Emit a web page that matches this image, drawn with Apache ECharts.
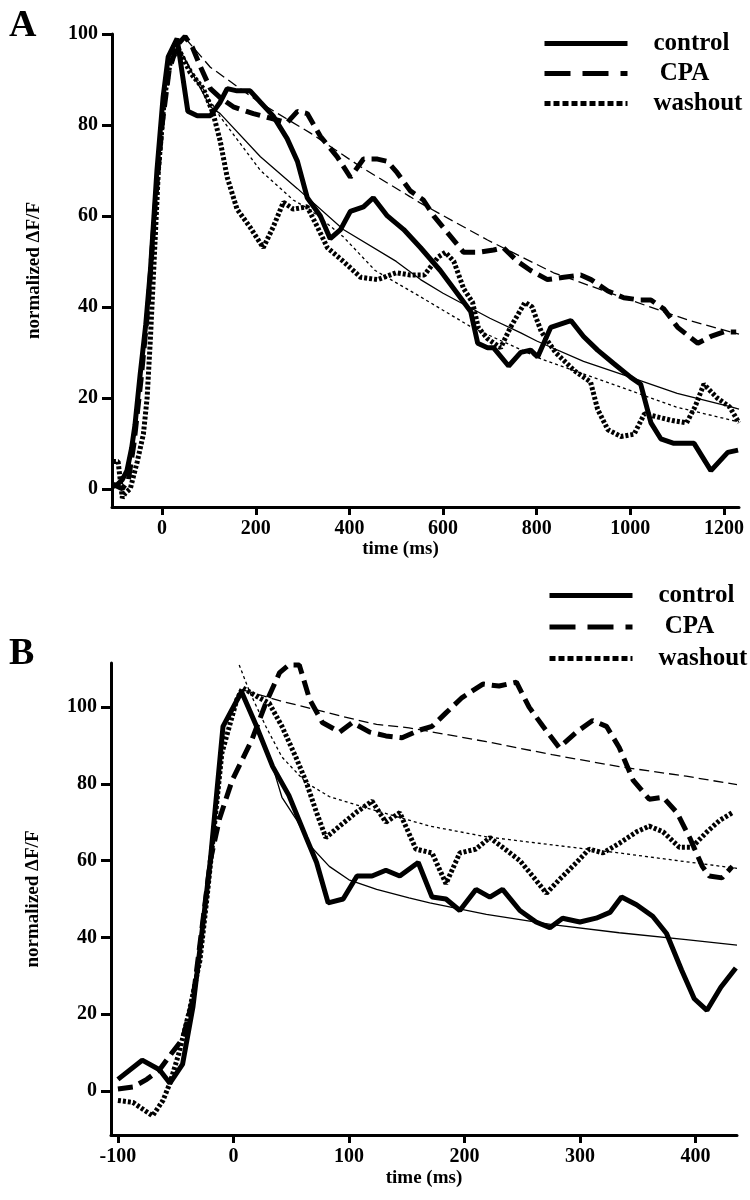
<!DOCTYPE html>
<html>
<head>
<meta charset="utf-8">
<script src="https://cdn.jsdelivr.net/npm/echarts@6/dist/echarts.min.js"></script>
<style>html,body{margin:0;padding:0;background:#fff}#c{width:750px;height:1200px}</style>
</head>
<body>
<div id="c"></div>
<script>
// ---------- Panel A data: [time (ms), normalized dF/F] ----------
const controlA = [[-105,0.5],[-95,1],[-85,2],[-75,4],[-65,9],[-58,14],[-47,25],[-35,36],[-25,48],[-11,70],[2,86],[13,95],[32,99],[55,83],[75,82],[103,82],[124,85],[139,88],[160,87.5],[188,87.5],[210,85],[237,82],[267,77],[289,72],[310,64],[338,60],[359,55],[381,57],[402,61],[430,62],[451,64],[481,60],[516,57],[552,53],[594,48],[623,44],[659,39],[674,32],[695,31],[708,31],[740,27],[766,30],[787,30.5],[802,29],[830,35.5],[873,37],[900,33.5],[930,30.5],[965,27.5],[1001,24.5],[1022,23],[1044,14.5],[1065,11],[1093,10],[1136,10],[1172,4],[1208,8],[1230,8.5]];
const cpaA = [[-105,1],[-85,0],[-72,2],[-60,10],[-45,24],[-30,40],[-15,62],[0,80],[15,92],[32,97.5],[49,99.5],[65,97],[81,93],[103,88],[124,86],[152,84],[195,82.5],[231,81.5],[267,80.5],[289,83],[310,82.5],[338,77.5],[374,73],[402,68.5],[430,72.5],[460,72.5],[481,72],[502,69.5],[530,65.5],[558,63.5],[580,60],[616,55.5],[644,52],[674,52],[708,52.5],[729,53],[759,50],[787,48],[823,46],[858,46.5],[894,47],[916,46],[952,43.5],[986,42],[1022,41.5],[1044,41.5],[1072,39.5],[1101,35.5],[1144,32],[1172,33.5],[1200,34.5],[1226,34.5]];
const washoutA = [[-105,6],[-94,6],[-85,-2],[-79,-1],[-68,0],[-53,6],[-40,12],[-32,20],[-25,33],[-18,48],[-8,70],[5,86],[17,93.5],[34,97],[60,91.5],[88,88],[109,82.5],[124,76.5],[139,68.5],[160,61.5],[188,57.5],[216,53],[237,57.5],[259,63],[280,61.5],[310,62],[332,57.5],[353,53],[387,50],[424,46.5],[460,46],[500,47.5],[530,47],[560,47],[590,51],[605,52],[623,50],[644,44],[663,41],[675,35.5],[695,33],[723,31],[744,35.5],[775,41],[790,40],[810,34.5],[840,30],[880,26],[915,23.5],[930,17.5],[952,13],[980,11.5],[1008,12],[1030,16.5],[1050,16],[1090,15],[1120,14.5],[1138,18],[1157,23],[1185,20],[1212,18],[1232,14.5]];
const controlFitA = [[30,98],[103,84],[124,82.5],[210,73],[289,66],[387,57],[500,50],[552,46],[600,43],[700,37.5],[766,34.3],[800,32.5],[900,28],[1001,24.5],[1100,21],[1215,18],[1232,17.5]];
const cpaFitA = [[50,99],[103,92.7],[210,84.8],[317,78.2],[424,70.8],[530,64.2],[552,62.8],[695,54.7],[836,47.5],[980,42.2],[1123,37.1],[1232,34]];
const washoutFitA = [[34,97],[124,81.8],[210,70],[280,63.5],[317,61.3],[387,55.4],[455,48],[552,42.2],[663,35.4],[813,28.4],[954,23.3],[1097,18],[1232,14.7]];

// ---------- Panel B data ----------
const controlB = [[-100,3],[-79,8],[-64,5.5],[-55,2],[-44,7],[-35,22],[-27,42],[-20,60],[-9,95],[7,104],[20,95],[34,84.5],[48,77],[63,66],[72,59.5],[82,49],[95,50],[107,56],[120,56],[132,57.5],[144,56],[160,59.5],[172,50.5],[184,50],[196,47],[210,52.5],[222,50.5],[233,52.5],[248,47],[262,44],[274,42.5],[285,45],[300,44],[314,45],[326,46.5],[336,50.5],[349,48.5],[363,45.5],[375,41],[388,31.5],[399,24],[410,21],[422,27],[435,32]];
const cpaB = [[-100,0.5],[-87,1],[-75,3],[-64,5.5],[-53,10],[-44,13.5],[-35,24],[-27,43],[-20,60],[-12,71],[-1,81],[16,91.5],[28,101],[40,109],[48,111],[57,111],[66,102],[77,96],[92,93.5],[103,96],[118,93.5],[132,92.5],[146,92],[161,94],[172,95],[184,98.5],[198,102.5],[216,106],[230,105.5],[245,106.5],[256,100],[268,95],[282,89.5],[297,93.5],[311,96.5],[323,95],[334,89.5],[346,81],[360,76],[372,76.5],[384,72.5],[395,66],[406,58.5],[412,56],[423,55.5],[432,58.5]];
const washoutB = [[-100,-2.5],[-87,-3],[-70,-6.5],[-61,-2.5],[-55,2],[-47,10],[-38,21],[-29,34],[-23,50],[-10,88],[3,102],[8,105],[22,102.5],[31,101],[42,95],[54,87],[63,80.5],[72,72.5],[80,66],[92,69],[106,72.5],[120,75.5],[132,70],[144,72.5],[158,63],[172,62],[184,54],[196,62],[210,63],[222,66],[233,63.5],[248,60],[259,56],[271,51.5],[282,55],[297,59.5],[308,63],[320,62],[334,64.5],[349,67.5],[360,69],[372,67.5],[386,63.5],[397,63.5],[410,67.5],[421,70.5],[432,72.5]];
const controlFitB = [[7,104],[20,95],[34,84.5],[42,76.5],[55,70.5],[66,64],[83,58.5],[100,55],[124,52.5],[152,50.3],[170,49],[219,46],[276,43.3],[334,41.2],[392,39.4],[436,38]];
const cpaFitB = [[8,104.5],[42,101.5],[72,99.3],[95,97.5],[124,95.5],[152,94.6],[219,91],[276,87.6],[334,84.5],[392,82],[436,79.8]];
const washoutFitB = [[5,111],[14,104],[28,95],[42,87],[63,80.3],[83,76.7],[112,74],[141,71.5],[170,69],[219,66.2],[276,64.1],[334,62],[392,59.7],[436,58]];

// ---------- ticks & labels ----------
const xTicksA = [0,200,400,600,800,1000,1200];
const yTicksA = [0,20,40,60,80,100];
const xTicksB = [-100,0,100,200,300,400];
const yTicksB = [0,20,40,60,80,100];
const legendNames = ['control','CPA','washout'];

const F = '"Liberation Serif", "Times New Roman", serif';
const BLACK = '#000';
const DASH = [15, 7];
const DOT = [3, 2];

function xAx(grid, min, max, ticks, gap, pad) {
  return {type:'value', gridIndex:grid, min:min, max:max,
    name:'time (ms)', nameLocation:'middle', nameGap:gap,
    nameTextStyle:{fontFamily:F, fontWeight:'bold', fontSize:19, color:BLACK, padding:pad},
    axisLine:{show:true, onZero:false, lineStyle:{color:BLACK, width:3}},
    axisTick:{show:true, customValues:ticks, length:8, lineStyle:{color:BLACK, width:3}},
    axisLabel:{show:true, customValues:ticks, formatter:function(v){return String(v);}, fontFamily:F, fontWeight:'bold', fontSize:20, color:BLACK, margin:12},
    splitLine:{show:false}};
}
function yAx(grid, min, max, ticks) {
  return {type:'value', gridIndex:grid, min:min, max:max,
    name:'normalized \u0394F/F', nameLocation:'middle', nameGap:68, nameRotate:90,
    nameTextStyle:{fontFamily:F, fontWeight:'bold', fontSize:19, color:BLACK},
    axisLine:{show:true, onZero:false, lineStyle:{color:BLACK, width:3}},
    axisTick:{show:true, customValues:ticks, length:10, lineStyle:{color:BLACK, width:3}},
    axisLabel:{show:true, customValues:ticks, formatter:function(v){return String(v);}, fontFamily:F, fontWeight:'bold', fontSize:20, color:BLACK, margin:14},
    splitLine:{show:false}};
}
function line(name, data, idx, width, type) {
  return {type:'line', name:name, data:data, xAxisIndex:idx, yAxisIndex:idx,
    symbol:'none', showSymbol:false, silent:true, animation:false, clip:true,
    lineStyle:{color:BLACK, width:width, type:type}, itemStyle:{color:BLACK}};
}
function legend(left, top, gap) {
  return {show:true, orient:'vertical', left:left, top:top, itemWidth:83, itemHeight:14, itemGap:gap,
    selectedMode:false,
    data:[{name:legendNames[0], lineStyle:{type:'solid'}},{name:legendNames[1], lineStyle:{type:[26,12]}},{name:legendNames[2], lineStyle:{type:[6,3]}}],
    formatter:function(n){return n === 'CPA' ? ' CPA' : n;},
    lineStyle:{width:5, color:BLACK},
    itemStyle:{opacity:0},
    textStyle:{fontFamily:F, fontWeight:'bold', fontSize:25, color:BLACK, padding:[0,0,0,21]}};
}

const option = {
  backgroundColor:'#fff',
  animation:false,
  title:[
    {text:'A', left:4, top:2, textStyle:{fontFamily:F, fontWeight:'bold', fontSize:38, color:BLACK}},
    {text:'B', left:4, top:630, textStyle:{fontFamily:F, fontWeight:'bold', fontSize:38, color:BLACK}}
  ],
  legend:[legend(537, 26, 5), legend(542, 578, 6.5)],
  grid:[
    {left:112, top:34, width:627, height:473, containLabel:false},
    {left:111, top:663, width:626, height:472, containLabel:false}
  ],
  xAxis:[xAx(0, -107, 1232, xTicksA, 30, [0,50,0,0]), xAx(1, -106, 436, xTicksB, 34, [0,0,0,0])],
  yAxis:[yAx(0, -4, 100, yTicksA), yAx(1, -11.5, 111.5, yTicksB)],
  series:[
    line('control fit A', controlFitA, 0, 1.3, 'solid'),
    line('CPA fit A', cpaFitA, 0, 1.3, [10,5]),
    line('washout fit A', washoutFitA, 0, 1.3, [3,3]),
    line('control', controlA, 0, 5, 'solid'),
    line('CPA', cpaA, 0, 5, DASH),
    line('washout', washoutA, 0, 5, DOT),
    line('control fit B', controlFitB, 1, 1.3, 'solid'),
    line('CPA fit B', cpaFitB, 1, 1.3, [10,5]),
    line('washout fit B', washoutFitB, 1, 1.3, [3,3]),
    line('control', controlB, 1, 5, 'solid'),
    line('CPA', cpaB, 1, 5, DASH),
    line('washout', washoutB, 1, 5, DOT)
  ]
};
const chart = echarts.init(document.getElementById('c'), null, {renderer:'canvas'});
chart.setOption(option);
</script>
</body>
</html>
